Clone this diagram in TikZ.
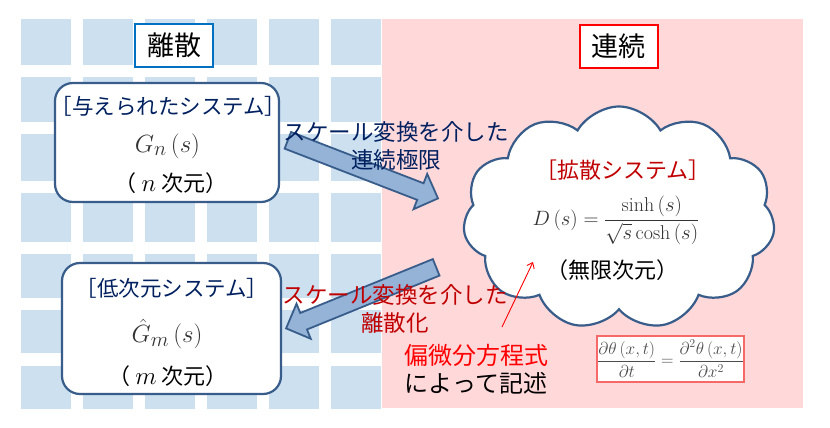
\documentclass[tikz,border=0pt]{standalone}
\usepackage{fontspec}
\newfontfamily\jp{Noto Sans CJK JP}
\usetikzlibrary{shapes.symbols,shapes.arrows,arrows.meta}
\definecolor{tileblue}{RGB}{204,224,240}
\definecolor{pinkbg}{RGB}{255,216,218}
\definecolor{boxblue}{RGB}{56,93,138}
\definecolor{arrowfill}{RGB}{149,179,215}
\definecolor{navy}{RGB}{0,32,96}
\definecolor{darkred}{RGB}{192,0,0}
\definecolor{brightblue}{RGB}{0,112,192}
\definecolor{pdeborder}{RGB}{245,105,105}
\tikzset{
  sysbox/.style={draw=boxblue, line width=2.2pt, fill=white, rounded corners=18pt, inner sep=0},
  tagbox/.style={draw=#1, line width=2pt, fill=white, minimum width=78pt, minimum height=43pt, inner sep=0, font=\jp\fontsize{27}{30}\selectfont},
  blockarrow/.style={single arrow, draw=boxblue, line width=1.8pt, fill=arrowfill, single arrow head extend=10pt, single arrow tip angle=90, inner xsep=0pt, inner ysep=8pt},
  jptext/.style={font=\jp\fontsize{#1}{28}\selectfont, inner sep=0, align=center},
  mathtext/.style={font=\fontsize{#1}{#1}\selectfont, inner sep=0, text=black!80},
  tile/.style={fill=tileblue},
}
\begin{document}
\begin{tikzpicture}[x=1pt, y=-1pt]
\fill[white] (0,0) rectangle (830,428);
\useasboundingbox (0,0) rectangle (830,428);
% tiles
\foreach \i in {0,...,5} {
  \foreach \t/\b in {19/65, 77/122, 134/181, 193/242, 254/298, 310/353, 366/409} {
    \fill[tile] ({21+62*\i},\t) rectangle ({71+62*\i},\b);
  }
}
% pink region
\fill[pinkbg] (382,19) rectangle (803,408);
% tag boxes
\node[tagbox=brightblue] (risan) at (174,45.5) {離散};
\node[tagbox=red] (renzoku) at (618.5,46.5) {連続};
% system boxes
\node[sysbox, minimum width=224pt, minimum height=119pt] (sys1) at (167,142.5) {};
\node[jptext=21.5, text=navy] (t1) at (168.5,106) {［与えられたシステム］};
\node[mathtext=28] (g1) at (167.5,146) {$G_n\left(s\right)$};
\node[jptext=22] (d1) at (171,183) {（\ {\fontsize{24}{24}\selectfont$n$}\ 次元）};
\node[sysbox, minimum width=219pt, minimum height=131pt] (sys2) at (171.5,328.5) {};
\node[jptext=21.5, text=navy] (t2) at (172,288) {［低次元システム］};
\node[mathtext=28] (g2) at (167,334) {$\hat{G}_m\left(s\right)$};
\node[jptext=22] (d2) at (168,376) {（\ {\fontsize{24}{24}\selectfont$m$}\ 次元）};
% cloud
\node[cloud, draw=boxblue, line width=2.2pt, fill=white, cloud puffs=11, cloud puff arc=120, aspect=1.4, minimum width=312pt, minimum height=223pt, inner sep=0] (cloud) at (619,218) {};
\node[jptext=22, text=darkred] (kakusan) at (623,170) {［拡散システム］};
\node[mathtext=20] (dform) at (616,220) {$\displaystyle D\left(s\right)=\frac{\sinh\left(s\right)}{\sqrt{s}\cosh\left(s\right)}$};
\node[jptext=22] (mugen) at (612,270) {（無限次元）};
% block arrows
\coordinate (a1s) at (287,140);
\coordinate (a1e) at (437,198);
\coordinate (a2s) at (437,267);
\coordinate (a2e) at (287,328);
\path (a1s) -- node[pos=0, sloped, allow upside down, anchor=tail, blockarrow, minimum height=161pt] (arr1) {} (a1e);
\path (a2s) -- node[pos=0, sloped, allow upside down, anchor=tail, blockarrow, minimum height=162pt] (arr2) {} (a2e);
\node[jptext=22.5, text=navy] (lab1) at (396,146) {スケール変換を介した\\連続極限};
\node[jptext=22.5, text=darkred] (lab2) at (395,309) {スケール変換を介した\\離散化};
% PDE label and arrow
\node[jptext=24] (pdelab) at (476,369) {\textcolor{red}{偏微分方程式}\\によって記述};
\coordinate (r1) at (502,327);
\coordinate (r2) at (533,262);
\draw[red, line width=0.9pt, -{Straight Barb[length=5pt,width=8pt]}] (r1) -- (r2);
% PDE box
\node[draw=pdeborder, line width=1.6pt, fill=white, minimum width=147pt, minimum height=46pt, inner sep=0, font=\fontsize{17}{20}\selectfont, text=black!70] (pde) at (670.5,359)
  {$\displaystyle \frac{\partial\theta\left(x,t\right)}{\partial t}=\frac{\partial^2\theta\left(x,t\right)}{\partial x^2}$};
\end{tikzpicture}
\end{document}
